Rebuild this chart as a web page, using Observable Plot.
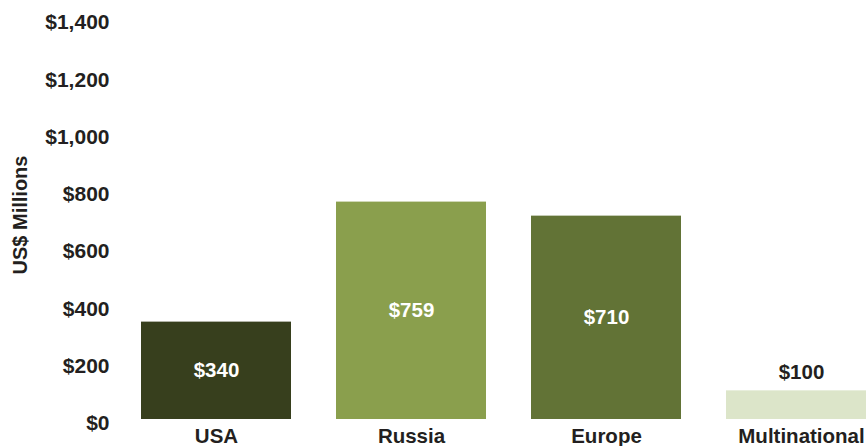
<!DOCTYPE html>
<html>
<head>
<meta charset="utf-8">
<script src="https://cdn.jsdelivr.net/npm/d3@7"></script>
<script src="https://cdn.jsdelivr.net/npm/@observablehq/plot@0.6"></script>
<style>
  html, body { margin: 0; padding: 0; background: #fff; overflow: hidden; }
  #chart { width: 866px; height: 446px; }
</style>
</head>
<body>
<div id="chart"></div>
<script>
const regions = ["USA", "Russia", "Europe", "Multinational"];
const values = [340, 759, 710, 100];
const colors = ["#373f1d", "#8a9f4d", "#627336", "#dce5c9"];
const yTicks = [0, 200, 400, 600, 800, 1000, 1200, 1400];
const yLabel = "US$ Millions";

const data = regions.map((r, i) => ({ region: r, value: values[i] }));
const fmt = v => "$" + d3.format(",")(v);
const font = "'Liberation Sans', Arial, Helvetica, sans-serif";
const ink = "#231f20";

const chart = Plot.plot({
  width: 866,
  height: 446,
  marginTop: 18,
  marginBottom: 27,
  marginLeft: 115,
  marginRight: 0,
  style: { fontFamily: font, background: "#fff", overflow: "hidden" },
  x: { domain: regions, range: [94, 923], padding: 0.2296, axis: null },
  y: { domain: [0, 1400], axis: null },
  color: { domain: regions, range: colors },
  marks: [
    Plot.barY(data, { x: "region", y: "value", fill: "region", clip: true }),
    Plot.text(data.filter(d => d.value > 200), {
      x: "region", y: d => d.value / 2, text: d => fmt(d.value),
      fill: "white", fontSize: 20.5, fontWeight: "bold"
    }),
    Plot.text(data.filter(d => d.value <= 200), {
      x: "region", y: "value", text: d => fmt(d.value),
      fill: ink, fontSize: 20.5, fontWeight: "bold", dy: -18
    }),
    Plot.axisY({
      ticks: yTicks, tickFormat: fmt, tickSize: 0, tickPadding: 6,
      fontSize: 21, fontWeight: "bold", fill: ink, dy: 4, label: null
    }),
    Plot.axisX({
      tickSize: 0, tickPadding: 9, fontSize: 20.5, fontWeight: "bold",
      fill: ink, label: null
    }),
    Plot.text([yLabel], {
      frameAnchor: "left", text: d => d, rotate: -90, dx: -95, dy: -4,
      textAnchor: "middle", fontSize: 20, fontWeight: "bold", fill: ink
    })
  ]
});
document.getElementById("chart").appendChild(chart);
</script>
</body>
</html>
